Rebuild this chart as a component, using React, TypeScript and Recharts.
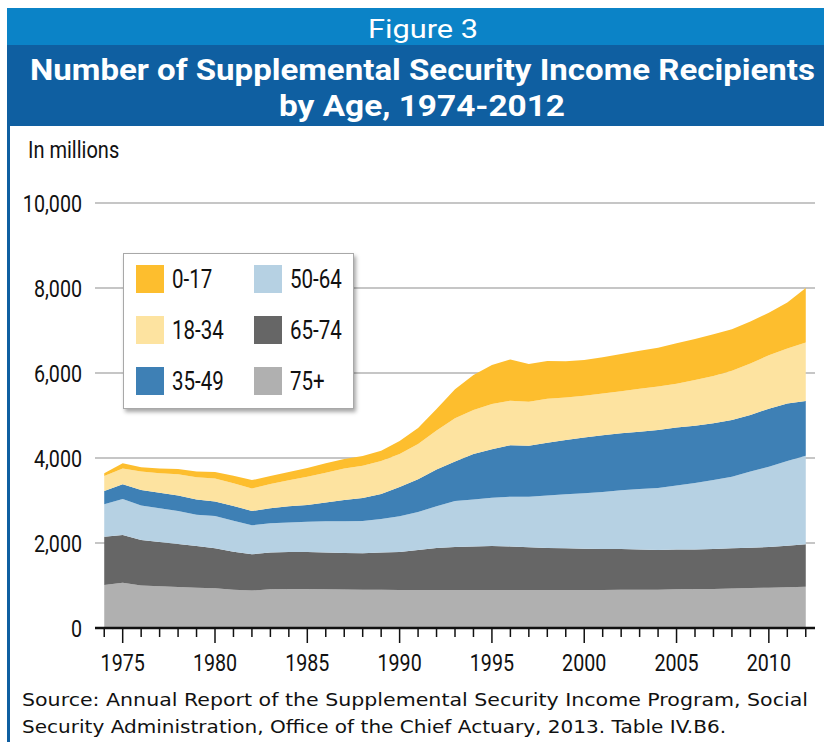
import { AreaChart, Area, XAxis, YAxis, CartesianGrid, Legend } from "recharts";

// recipients in thousands (label on chart says "In millions")
const years = [
  1974, 1975, 1976, 1977, 1978, 1979, 1980, 1981, 1982, 1983, 1984, 1985, 1986,
  1987, 1988, 1989, 1990, 1991, 1992, 1993, 1994, 1995, 1996, 1997, 1998, 1999,
  2000, 2001, 2002, 2003, 2004, 2005, 2006, 2007, 2008, 2009, 2010, 2011, 2012,
];
const age75plus = [
  1010, 1065, 1000, 980, 965, 950, 935, 900, 880, 910, 918, 918, 910, 905, 900,
  900, 895, 895, 895, 895, 895, 895, 895, 895, 895, 895, 895, 895, 900, 900, 900,
  910, 915, 920, 930, 940, 950, 960, 970,
];
const age65to74 = [
  1140, 1125, 1070, 1045, 1010, 980, 940, 895, 855, 865, 872, 872, 865, 860, 860,
  875, 895, 940, 985, 1010, 1025, 1035, 1025, 1005, 985, 980, 970, 965, 960, 950,
  935, 935, 935, 940, 945, 950, 955, 975, 1000,
];
const age50to64 = [
  760, 845, 815, 790, 780, 735, 760, 730, 680, 690, 695, 710, 735, 745, 755, 790,
  840, 895, 985, 1085, 1105, 1135, 1170, 1190, 1240, 1270, 1305, 1340, 1380, 1420,
  1460, 1510, 1560, 1620, 1685, 1790, 1890, 1995, 2085,
];
const age35to49 = [
  315, 345, 360, 370, 365, 360, 340, 345, 340, 350, 380, 395, 445, 500, 545, 590,
  685, 770, 865, 930, 1070, 1140, 1210, 1200, 1240, 1280, 1310, 1335, 1340, 1350,
  1365, 1360, 1350, 1335, 1335, 1330, 1365, 1355, 1285,
];
const age18to34 = [
  350, 375, 435, 455, 495, 520, 545, 535, 530, 575, 610, 665, 700, 745, 760, 775,
  780, 830, 915, 1015, 1035, 1065, 1050, 1035, 1035, 1000, 985, 980, 990, 1010,
  1020, 1035, 1075, 1115, 1160, 1215, 1255, 1290, 1375,
];
const age0to17 = [
  65, 120, 100, 115, 125, 140, 150, 180, 195, 185, 195, 205, 220, 220, 225, 240,
  305, 375, 510, 680, 825, 920, 970, 885, 885, 850, 840, 855, 875, 895, 915, 950,
  965, 980, 975, 985, 1005, 1085, 1285,
];

const yTicks = [0, 2000, 4000, 6000, 8000, 10000];
const labelEvery = 5;

// bottom of the stack first
const series = [
  { name: "75+", values: age75plus, color: "#b0b0b0" },
  { name: "65-74", values: age65to74, color: "#666666" },
  { name: "50-64", values: age50to64, color: "#b6d1e3" },
  { name: "35-49", values: age35to49, color: "#3e80b5" },
  { name: "18-34", values: age18to34, color: "#fde3a0" },
  { name: "0-17", values: age0to17, color: "#fdbe2e" },
];
const legendOrder = ["0-17", "18-34", "35-49", "50-64", "65-74", "75+"];

const data = years.map((year, i) => {
  const row: Record<string, number> = { year };
  series.forEach((s) => {
    row[s.name] = s.values[i];
  });
  return row;
});

// no condensed font installed, so squeeze Roboto a bit
const labelFont = "Roboto, 'Noto Sans', sans-serif";
const squeeze = 0.82;

const XTick = (props: any) => {
  const { x, y, payload } = props;
  const year = payload.value as number;
  const major = year % labelEvery === 0;
  return (
    <g>
      <line x1={x} x2={x} y1={y} y2={y + (major ? 15 : 9)} stroke="#111" strokeWidth={1.5} />
      {major && (
        <text
          transform={`translate(${x},${y + 43}) scale(${squeeze},1)`}
          textAnchor="middle"
          fill="#111"
          fontSize={24}
          fontFamily={labelFont}
        >
          {year}
        </text>
      )}
    </g>
  );
};

const YTick = (props: any) => {
  const { x, y, payload } = props;
  return (
    <text
      transform={`translate(${x},${y}) scale(${squeeze},1)`}
      dy="0.36em"
      textAnchor="end"
      fill="#111"
      fontSize={24}
      fontFamily={labelFont}
    >
      {(payload.value as number).toLocaleString("en-US")}
    </text>
  );
};

const renderLegend = () => {
  const items = legendOrder.map((n) => series.find((s) => s.name === n)!);
  return (
    <div
      style={{
        width: 231,
        height: 156,
        boxSizing: "border-box",
        background: "#fff",
        border: "1px solid #a8a8a8",
        boxShadow: "2px 3px 4px rgba(0,0,0,0.35)",
        display: "grid",
        gridTemplateRows: "repeat(3, 51px)",
        gridTemplateColumns: "118px 110px",
        gridAutoFlow: "column",
        padding: "11px 0 0 12px",
      }}
    >
      {items.map((s) => (
        <div key={s.name} style={{ display: "flex", alignItems: "center", height: 28 }}>
          <span
            style={{ width: 28, height: 28, background: s.color, display: "inline-block", marginRight: 8, flex: "none" }}
          />
          <span
            style={{
              fontFamily: labelFont,
              fontSize: 25,
              color: "#111",
              display: "inline-block",
              transform: `scaleX(${squeeze})`,
              transformOrigin: "left center",
              whiteSpace: "nowrap",
            }}
          >
            {s.name}
          </span>
        </div>
      ))}
    </div>
  );
};

export default function App() {
  return (
    <div
      style={{
        position: "absolute",
        left: 0,
        top: 0,
        width: 824,
        height: 742,
        background: "#fff",
        overflow: "hidden",
      }}
    >
      <div style={{ position: "absolute", left: 7, top: 8, width: 817, height: 37, background: "#0b83c7" }} />
      <div style={{ position: "absolute", left: 7, top: 45, width: 817, height: 81, background: "#0f5fa1" }} />
      <div style={{ position: "absolute", left: 7, top: 126, width: 3, height: 616, background: "#0f5fa1" }} />

      <div style={{ position: "absolute", left: 0, top: 130 }}>
        <AreaChart
          width={824}
          height={560}
          data={data}
          margin={{ top: 73, right: 9, left: 0, bottom: 22 }}
        >
          <CartesianGrid vertical={false} stroke="#b3b3b3" strokeWidth={1.5} />
          <XAxis
            dataKey="year"
            type="number"
            domain={[1973.5, 2012.5]}
            ticks={years}
            interval={0}
            height={40}
            tickSize={0}
            tickMargin={0}
            tickLine={false}
            axisLine={{ stroke: "#111", strokeWidth: 2.5 }}
            tick={<XTick />}
          />
          <YAxis
            domain={[0, 10000]}
            ticks={yTicks}
            width={95}
            axisLine={false}
            tickLine={false}
            tickSize={0}
            tickMargin={13}
            tick={<YTick />}
          />
          {series.map((s) => (
            <Area
              key={s.name}
              dataKey={s.name}
              name={s.name}
              stackId="a"
              type="linear"
              stroke="none"
              fill={s.color}
              fillOpacity={1}
              dot={false}
              activeDot={false}
              isAnimationActive={false}
            />
          ))}
          <Legend
            layout="vertical"
            align="center"
            verticalAlign="middle"
            content={renderLegend}
            wrapperStyle={{ left: 123, top: 123, width: 231, height: 156 }}
          />
        </AreaChart>
      </div>

      <svg width={824} height={742} style={{ position: "absolute", left: 0, top: 0, pointerEvents: "none" }}>
        <text x={368} y={38} fill="#fff" fontSize={26} fontFamily={labelFont} textLength={110} lengthAdjust="spacingAndGlyphs">
          Figure 3
        </text>
        <text x={30} y={80} fill="#fff" fontSize={30} fontWeight="bold" fontFamily={labelFont} textLength={785} lengthAdjust="spacingAndGlyphs">
          Number of Supplemental Security Income Recipients
        </text>
        <text x={279} y={116} fill="#fff" fontSize={30} fontWeight="bold" fontFamily={labelFont} textLength={286} lengthAdjust="spacingAndGlyphs">
          by Age, 1974-2012
        </text>
        <text transform="translate(28,158) scale(0.87,1)" fill="#111" fontSize={23} fontFamily={labelFont}>
          In millions
        </text>
        <text x={22} y={706} fill="#111" fontSize={18} fontFamily="'DejaVu Sans', Verdana, sans-serif" textLength={786} lengthAdjust="spacingAndGlyphs">
          Source: Annual Report of the Supplemental Security Income Program, Social
        </text>
        <text x={22} y={733} fill="#111" fontSize={18} fontFamily="'DejaVu Sans', Verdana, sans-serif" textLength={704} lengthAdjust="spacingAndGlyphs">
          Security Administration, Office of the Chief Actuary, 2013. Table IV.B6.
        </text>
      </svg>
    </div>
  );
}
